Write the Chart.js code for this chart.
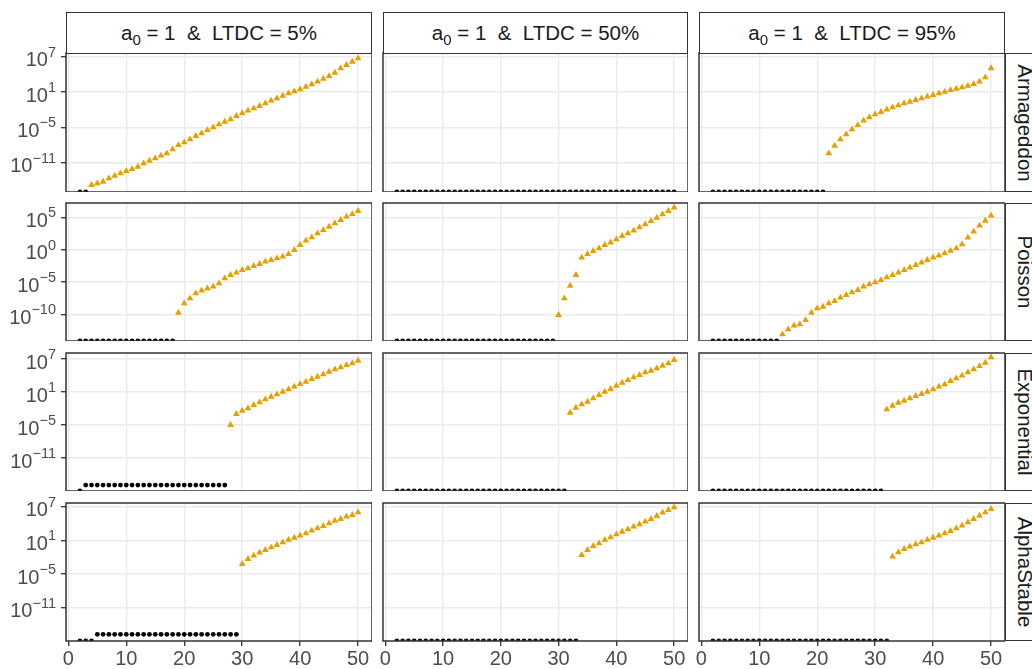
<!DOCTYPE html>
<html>
<head>
<meta charset="utf-8">
<script src="https://cdn.jsdelivr.net/npm/chart.js@4/dist/chart.umd.min.js"></script>
<style>
  html, body { margin: 0; padding: 0; background: #fff; overflow: hidden; width: 1032px; height: 669px; }
  #fig { position: relative; width: 1032px; height: 669px; overflow: hidden; font-family: "Liberation Sans", Arial, sans-serif; }
  #fig canvas { position: absolute; }
  .strip { position: absolute; box-sizing: border-box; border: 1px solid #333; background: #fff; color: #1a1a1a;
           font-size: 20.5px; display: flex; align-items: center; justify-content: center; white-space: pre; }
  .strip.right span { display: inline-block; transform: rotate(90deg); }
  .strip .sub { font-size: 15px; position: relative; top: 6px; }
</style>
</head>
<body>
<div id="fig"></div>
<script>
// Generations on the x axis
const generations = [2, 3, 4, 5, 6, 7, 8, 9, 10, 11, 12, 13, 14, 15, 16, 17, 18, 19, 20, 21,
  22, 23, 24, 25, 26, 27, 28, 29, 30, 31, 32, 33, 34, 35, 36, 37, 38, 39, 40, 41,
  42, 43, 44, 45, 46, 47, 48, 49, 50];

const ltdcLevels = ['5%', '50%', '95%'];
const processes = ['Armageddon', 'Poisson', 'Exponential', 'AlphaStable'];
const xTicks = [0, 10, 20, 30, 40, 50];

// ---- Armageddon ----
const armageddon5 = [0, 0, 1.7e-15, 3.2e-15, 6.0e-15, 2.2e-14, 6.3e-14, 1.6e-13, 3.9e-13, 8.5e-13,
  2.1e-12, 7.8e-12, 2.2e-11, 5.5e-11, 1.6e-10, 3.9e-10, 1.9e-9, 1.0e-8, 2.9e-8, 9.3e-8,
  3.5e-7, 9.8e-7, 3.5e-6, 1.0e-5, 3.3e-5, 9.3e-5, 2.3e-4, 8.5e-4, 2.5e-3, 6.9e-3,
  1.7e-2, 4.3e-2, 0.12, 0.35, 0.85, 2.4, 6.0, 13, 29, 81,
  200, 580, 1700, 5200, 1.9e4, 1.1e5, 3.9e5, 1.4e6, 5.2e6];
const armageddon50 = [0, 0, 0, 0, 0, 0, 0, 0, 0, 0,
  0, 0, 0, 0, 0, 0, 0, 0, 0, 0,
  0, 0, 0, 0, 0, 0, 0, 0, 0, 0,
  0, 0, 0, 0, 0, 0, 0, 0, 0, 0,
  0, 0, 0, 0, 0, 0, 0, 0, 0];
const armageddon95 = [0, 0, 0, 0, 0, 0, 0, 0, 0, 0,
  0, 0, 0, 0, 0, 0, 0, 0, 0, 0,
  3.9e-10, 7.8e-9, 9.3e-8, 6.6e-7, 4.7e-6, 2.5e-5, 1.4e-4, 5.1e-4, 1.6e-3, 4.1e-3,
  1.1e-2, 2.5e-2, 5.5e-2, 0.12, 0.23, 0.45, 0.85, 1.7, 3.2, 6.0,
  11, 22, 37, 63, 110, 230, 580, 3200, 1.1e5];
const armageddonOnset = [4, null, 22];
const armageddonTicks = [1e7, 1e1, 1e-5, 1e-11];
const armageddonRange = [1.07e-16, 4.27e7];

// ---- Poisson ----
const poisson5 = [0, 0, 0, 0, 0, 0, 0, 0, 0, 0,
  0, 0, 0, 0, 0, 0, 0, 1.8e-10, 5.0e-9, 3.0e-8,
  1.8e-7, 4.6e-7, 1.0e-6, 1.9e-6, 6.2e-6, 3.7e-5, 1.2e-4, 2.8e-4, 7.2e-4, 1.3e-3,
  3.0e-3, 6.0e-3, 1.4e-2, 2.5e-2, 4.6e-2, 8.3e-2, 0.21, 0.89, 5.2, 25,
  79, 330, 1100, 3500, 1.2e4, 3.8e4, 1.3e5, 3.2e5, 9.5e5];
const poisson50 = [0, 0, 0, 0, 0, 0, 0, 0, 0, 0,
  0, 0, 0, 0, 0, 0, 0, 0, 0, 0,
  0, 0, 0, 0, 0, 0, 0, 0, 7.9e-11, 3.0e-8,
  2.7e-6, 1.2e-4, 5.8e-2, 0.21, 0.62, 1.6, 5.2, 13, 40, 130,
  330, 870, 2800, 8100, 2.7e4, 8.7e4, 2.9e5, 9.5e5, 3.1e6];
const poisson95 = [0, 0, 0, 0, 0, 0, 0, 0, 0, 0,
  0, 0, 8.1e-14, 4.8e-13, 1.8e-12, 2.9e-12, 1.3e-11, 1.8e-10, 8.5e-10, 1.5e-9,
  5.0e-9, 1.1e-8, 3.8e-8, 9.8e-8, 2.5e-7, 5.8e-7, 1.9e-6, 4.4e-6, 8.9e-6, 2.0e-5,
  5.2e-5, 1.2e-4, 2.8e-4, 7.2e-4, 1.7e-3, 4.3e-3, 9.8e-3, 2.5e-2, 5.8e-2, 0.12,
  0.27, 0.69, 1.6, 6.6, 71, 600, 5100, 3.0e4, 1.8e5];
const poissonOnset = [19, 30, 14];
const poissonTicks = [1e5, 1e0, 1e-5, 1e-10];
const poissonRange = [7.6e-15, 1.62e7];

// ---- Exponential ----
const exponential5 = [0, 1.2e-16, 1.2e-16, 1.2e-16, 1.2e-16, 1.2e-16, 1.2e-16, 1.2e-16, 1.2e-16, 1.2e-16,
  1.2e-16, 1.2e-16, 1.2e-16, 1.2e-16, 1.2e-16, 1.2e-16, 1.2e-16, 1.2e-16, 1.2e-16, 1.2e-16,
  1.2e-16, 1.2e-16, 1.2e-16, 1.2e-16, 1.2e-16, 1.2e-16, 1.0e-5, 1.0e-3, 4.0e-3, 1.1e-2,
  4.3e-2, 0.13, 0.46, 1.4, 3.7, 11, 30, 93, 280, 740,
  2300, 6000, 1.6e4, 4.9e4, 1.3e5, 3.0e5, 7.9e5, 1.6e6, 4.9e6];
const exponential50 = [0, 0, 0, 0, 0, 0, 0, 0, 0, 0,
  0, 0, 0, 0, 0, 0, 0, 0, 0, 0,
  0, 0, 0, 0, 0, 0, 0, 0, 0, 0,
  1.7e-3, 1.4e-2, 5.6e-2, 0.17, 0.69, 2.8, 11, 35, 140, 490,
  1500, 4600, 1.2e4, 3.7e4, 7.4e4, 2.0e5, 6.0e5, 1.6e6, 6.5e6];
const exponential95 = [0, 0, 0, 0, 0, 0, 0, 0, 0, 0,
  0, 0, 0, 0, 0, 0, 0, 0, 0, 0,
  0, 0, 0, 0, 0, 0, 0, 0, 0, 0,
  6.9e-3, 3.2e-2, 0.11, 0.26, 0.69, 1.9, 4.3, 11, 30, 93,
  250, 1000, 3000, 9300, 3.7e4, 1.3e5, 5.2e5, 2.1e6, 2.0e7];
const exponentialOnset = [28, 32, 32];
const exponentialTicks = [1e7, 1e1, 1e-5, 1e-11];
const exponentialRange = [1.0e-17, 1.23e8];

// ---- AlphaStable ----
const alphaStable5 = [0, 0, 0, 1.8e-16, 1.8e-16, 1.8e-16, 1.8e-16, 1.8e-16, 1.8e-16, 1.8e-16,
  1.8e-16, 1.8e-16, 1.8e-16, 1.8e-16, 1.8e-16, 1.8e-16, 1.8e-16, 1.8e-16, 1.8e-16, 1.8e-16,
  1.8e-16, 1.8e-16, 1.8e-16, 1.8e-16, 1.8e-16, 1.8e-16, 1.8e-16, 1.8e-16, 6.2e-4, 4.8e-3,
  1.9e-2, 6.5e-2, 0.19, 0.58, 1.5, 4.5, 12, 30, 69, 180,
  540, 1400, 3600, 1.1e4, 3.2e4, 6.5e4, 1.7e5, 3.3e5, 1.0e6];
const alphaStable50 = [0, 0, 0, 0, 0, 0, 0, 0, 0, 0,
  0, 0, 0, 0, 0, 0, 0, 0, 0, 0,
  0, 0, 0, 0, 0, 0, 0, 0, 0, 0,
  0, 0, 2.5e-2, 0.19, 1.0, 3.0, 12, 35, 120, 350,
  930, 2800, 7200, 2.2e4, 6.5e4, 2.2e5, 8.7e5, 2.6e6, 7.8e6];
const alphaStable95 = [0, 0, 0, 0, 0, 0, 0, 0, 0, 0,
  0, 0, 0, 0, 0, 0, 0, 0, 0, 0,
  0, 0, 0, 0, 0, 0, 0, 0, 0, 0,
  0, 1.3e-2, 7.4e-2, 0.29, 0.76, 2.0, 4.5, 12, 30, 69,
  180, 470, 1400, 4200, 1.7e4, 6.5e4, 2.5e5, 1.0e6, 3.9e6];
const alphaStableOnset = [30, 34, 33];
const alphaStableTicks = [1e7, 1e1, 1e-5, 1e-11];
const alphaStableRange = [1.15e-17, 4.57e7];

// Facet rows assembled from the arrays above
const facetRows = [
  { series: [armageddon5, armageddon50, armageddon95], onset: armageddonOnset, ticks: armageddonTicks, range: armageddonRange },
  { series: [poisson5, poisson50, poisson95], onset: poissonOnset, ticks: poissonTicks, range: poissonRange },
  { series: [exponential5, exponential50, exponential95], onset: exponentialOnset, ticks: exponentialTicks, range: exponentialRange },
  { series: [alphaStable5, alphaStable50, alphaStable95], onset: alphaStableOnset, ticks: alphaStableTicks, range: alphaStableRange }
];

// Panel grid geometry (px)
const colLeft = [66, 383, 699];
const colWidth = [306, 305, 306];
const rowTop = [53, 203, 353, 503];
const rowHeight = [139, 138, 138, 138];
const Y_AXIS_W = 66;     // room for the y tick labels in the first column
const GUTTER = 10;       // spill room for x labels in other columns
const X_AXIS_H = 28;     // room for the x tick labels in the last row
const PAD_T = 10;        // headroom so the top exponent is not cut
const STRIP_H = 41;
const STRIP_W = 40;

const FONT = '"Liberation Sans", Arial, sans-serif';
const ORANGE = '#E69F00';
const GRID = '#EBEBEB';
const DARK = '#333333';
const TICK_TEXT = '#4D4D4D';

// Border drawn over the data, like a ggplot panel frame
const panelFrame = {
  id: 'panelFrame',
  afterDatasetsDraw(chart) {
    const a = chart.chartArea, ctx = chart.ctx;
    ctx.save();
    ctx.strokeStyle = DARK;
    ctx.lineWidth = 1.5;
    ctx.strokeRect(a.left, a.top, a.right - a.left, a.bottom - a.top);
    ctx.restore();
  }
};

// y tick labels written as 10 with a raised exponent
const powerLabels = {
  id: 'powerLabels',
  afterDraw(chart, args, opts) {
    if (!opts.show) return;
    const scale = chart.scales.y, ctx = chart.ctx;
    const right = chart.chartArea.left - 10;
    ctx.save();
    ctx.fillStyle = TICK_TEXT;
    ctx.textBaseline = 'middle';
    ctx.textAlign = 'right';
    scale.ticks.forEach(t => {
      const y = scale.getPixelForValue(t.value);
      const e = Math.round(Math.log10(t.value));
      const sup = e < 0 ? '\u2212' + Math.abs(e) : String(e);
      ctx.font = '14.5px ' + FONT;
      const w = ctx.measureText(sup).width;
      ctx.fillText(sup, right, y - 4);
      ctx.font = '20px ' + FONT;
      ctx.fillText('10', right - w, y + 4);
    });
    ctx.restore();
  }
};

const fig = document.getElementById('fig');

function makePanel(r, c) {
  const row = facetRows[r];
  const values = row.series[c];
  const onset = row.onset[c];
  const [lo, hi] = row.range;
  const yW = c === 0 ? Y_AXIS_W : GUTTER;
  const xH = r === 3 ? X_AXIS_H : 0;

  const canvas = document.createElement('canvas');
  canvas.width = colWidth[c] + yW;
  canvas.height = rowHeight[r] + xH + PAD_T;
  canvas.style.left = (colLeft[c] - yW) + 'px';
  canvas.style.top = (rowTop[r] - PAD_T) + 'px';
  fig.appendChild(canvas);

  // zeros sit on the floor of the log axis
  const flat = [], rise = [];
  generations.forEach((g, i) => {
    const v = values[i];
    const pt = { x: g, y: v > 0 ? v : lo };
    if (onset !== null && g >= onset) rise.push(pt); else flat.push(pt);
  });

  new Chart(canvas, {
    type: 'scatter',
    data: {
      datasets: [
        { data: flat, pointStyle: 'circle', pointRadius: 2.4, pointBackgroundColor: '#000', backgroundColor: '#000',
          pointBorderWidth: 0, borderWidth: 0, clip: 0 },
        { data: rise, pointStyle: 'triangle', pointRadius: 3.9, pointBackgroundColor: ORANGE, backgroundColor: ORANGE,
          pointBorderWidth: 0, borderWidth: 0, clip: 0 }
      ]
    },
    options: {
      responsive: false,
      animation: false,
      devicePixelRatio: 1,
      events: [],
      layout: { padding: { top: PAD_T, left: 0, right: 0, bottom: 0 }, autoPadding: false },
      plugins: {
        legend: { display: false },
        tooltip: { enabled: false },
        powerLabels: { show: c === 0 }
      },
      scales: {
        x: {
          type: 'linear', position: 'bottom', min: -0.4, max: 52.4, bounds: 'data',
          afterBuildTicks: s => { s.ticks = xTicks.map(v => ({ value: v })); },
          afterFit: s => { s.height = xH; s.paddingLeft = 0; s.paddingRight = 0; },
          grid: { color: GRID, lineWidth: 1.4, drawTicks: r === 3, tickLength: 5, tickColor: DARK, tickWidth: 1.3 },
          border: { display: false },
          ticks: { display: r === 3, color: TICK_TEXT, font: { family: FONT, size: 20 }, padding: 1,
                   maxRotation: 0, autoSkip: false, callback: v => String(v) }
        },
        y: {
          type: 'logarithmic', position: 'left', min: lo, max: hi, bounds: 'data',
          afterBuildTicks: s => { s.ticks = row.ticks.map(v => ({ value: v })); },
          afterFit: s => { s.width = yW; s.paddingTop = 0; s.paddingBottom = 0; },
          grid: { color: GRID, lineWidth: 1.4, drawTicks: c === 0, tickLength: 5, tickColor: DARK, tickWidth: 1.3 },
          border: { display: false },
          ticks: { display: false }
        }
      }
    },
    plugins: [panelFrame, powerLabels]
  });
}

for (let r = 0; r < 4; r++) for (let c = 0; c < 3; c++) makePanel(r, c);

// Column strips
ltdcLevels.forEach((lv, c) => {
  const d = document.createElement('div');
  d.className = 'strip';
  d.style.left = colLeft[c] + 'px';
  d.style.top = (rowTop[0] - STRIP_H) + 'px';
  d.style.width = colWidth[c] + 'px';
  d.style.height = (STRIP_H + 1) + 'px';
  d.innerHTML = 'a<span class="sub">0</span> = 1 &nbsp;&amp;&nbsp; LTDC = ' + lv;
  fig.appendChild(d);
});

// Row strips
processes.forEach((p, r) => {
  const d = document.createElement('div');
  d.className = 'strip right';
  d.style.left = (colLeft[2] + colWidth[2]) + 'px';
  d.style.top = rowTop[r] + 'px';
  d.style.width = STRIP_W + 'px';
  d.style.height = rowHeight[r] + 'px';
  const s = document.createElement('span');
  s.textContent = p;
  d.appendChild(s);
  fig.appendChild(d);
});
</script>
</body>
</html>
